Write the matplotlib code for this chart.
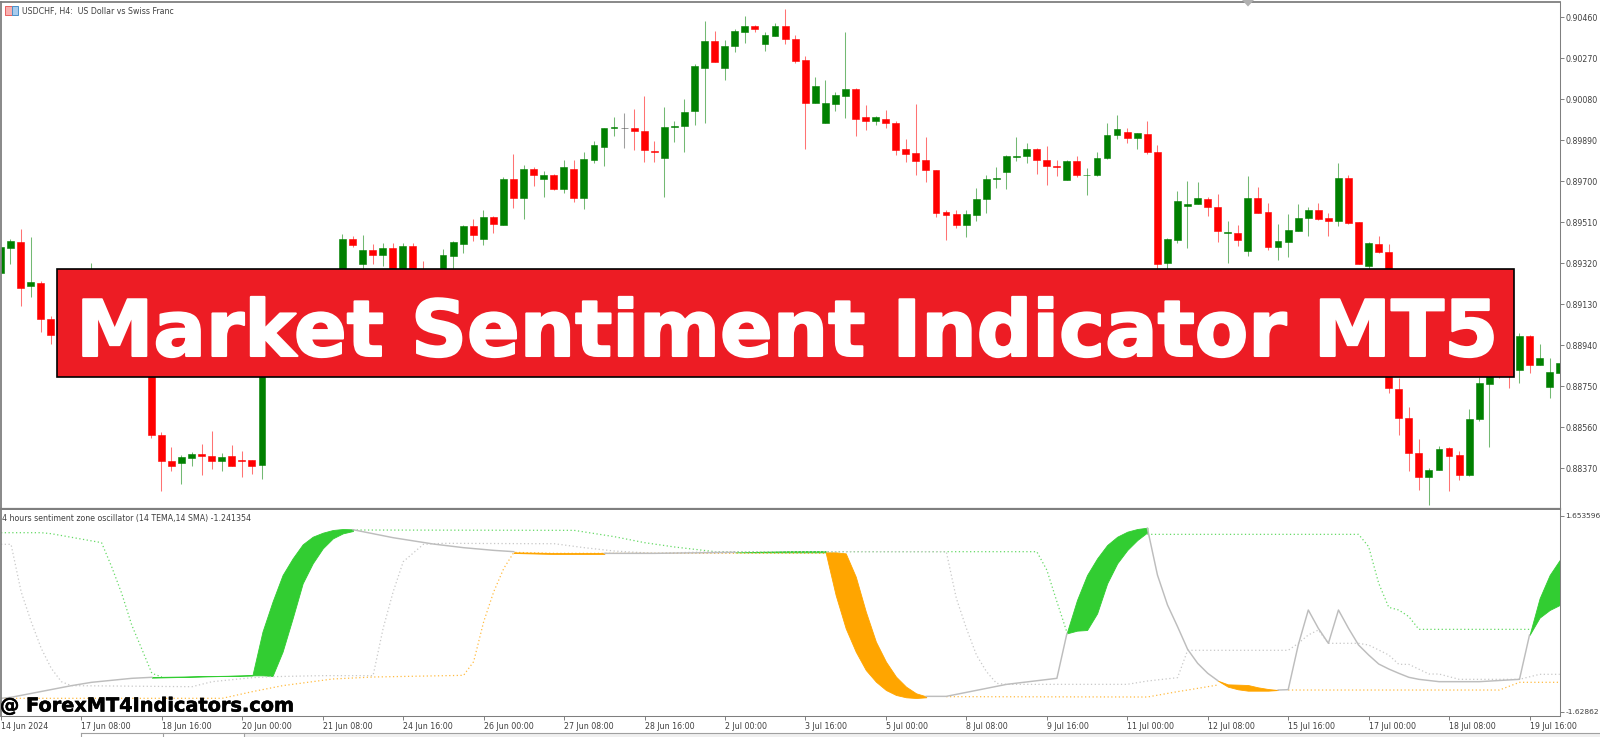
import matplotlib
matplotlib.use("Agg")
import matplotlib.pyplot as plt
import matplotlib.patheffects as pe
from matplotlib.patches import Rectangle, Polygon
import numpy as np

W, H = 1600, 737

# USDCHF H4 candles, prices in points (1e-5)
opens = [89273, 89392, 89420, 89216, 89230, 89060, 88990, 89080, 89120, 89040, 89220, 89130, 89170, 89100, 89060, 89000,
         88525, 88403, 88392, 88419, 88436, 88426, 88405, 88425, 88409, 88406, 88385, 89270, 89200, 89250, 89150, 89230,
         89190, 89260, 89258, 89431, 89316, 89383, 89358, 89389, 89258, 89398, 89260, 89190, 89227, 89353, 89411, 89492,
         89432, 89534, 89499, 89712, 89622, 89757, 89712, 89730, 89664, 89758, 89622, 89800, 89859, 89945, 89945, 89945,
         89934, 89839, 89806, 89950, 89958, 90026, 90223, 90348, 90223, 90325, 90390, 90418, 90336, 90375, 90418, 90359,
         90263, 90063, 89970, 90056, 90097, 90128, 89996, 89981, 89988, 89970, 89849, 89829, 89797, 89754, 89557, 89547,
         89497, 89543, 89618, 89712, 89744, 89814, 89815, 89849, 89800, 89771, 89707, 89794, 89727, 89727, 89808, 89914,
         89928, 89900, 89919, 89837, 89319, 89428, 89587, 89596, 89619, 89579, 89460, 89462, 89378, 89622, 89557, 89395,
         89418, 89471, 89530, 89567, 89528, 89517, 89715, 89510, 89307, 89409, 89373, 88739, 88604, 88440, 88329, 88363,
         88462, 88430, 88338, 88596, 88762, 88900, 88900, 88827, 88983, 88850, 88745, 88813]
highs = [89404, 89432, 89477, 89442, 89239, 89075, 89100, 89150, 89180, 89319, 89260, 89200, 89210, 89170, 89120, 89060,
         88536, 88467, 88433, 88443, 88482, 88544, 88440, 88476, 88450, 88406, 89285, 89285, 89270, 89275, 89260, 89280,
         89280, 89285, 89454, 89445, 89451, 89408, 89415, 89414, 89414, 89414, 89330, 89260, 89384, 89423, 89496, 89523,
         89567, 89539, 89720, 89826, 89775, 89766, 89747, 89735, 89798, 89800, 89837, 89885, 89948, 89996, 90016, 90036,
         90095, 89885, 90044, 89981, 90081, 90242, 90441, 90396, 90355, 90404, 90466, 90424, 90390, 90432, 90500, 90376,
         90280, 90185, 90169, 90112, 90392, 90131, 90053, 90004, 90030, 89978, 89896, 90060, 89905, 89754, 89565, 89567,
         89567, 89667, 89727, 89766, 89823, 89903, 89876, 89852, 89862, 89798, 89798, 89815, 89760, 89837, 89971, 90007,
         89948, 89925, 89978, 89868, 89437, 89656, 89701, 89695, 89625, 89642, 89517, 89497, 89724, 89672, 89599, 89500,
         89547, 89596, 89582, 89599, 89553, 89784, 89727, 89510, 89417, 89446, 89409, 88790, 88652, 88504, 88369, 88474,
         88470, 88450, 88644, 88794, 88900, 88950, 88960, 88995, 88987, 88946, 88881, 88895]
lows = [89258, 89316, 89122, 89165, 89003, 88947, 88950, 89040, 89000, 89000, 89100, 89060, 89080, 89020, 88980, 88508,
        88266, 88358, 88297, 88380, 88337, 88368, 88357, 88379, 88331, 88343, 88321, 89180, 89170, 89120, 89130, 89160,
        89170, 89200, 89227, 89395, 89289, 89316, 89307, 89234, 89234, 89227, 89150, 89140, 89196, 89281, 89369, 89421,
        89404, 89459, 89496, 89576, 89525, 89679, 89628, 89661, 89647, 89602, 89570, 89783, 89771, 89908, 89852, 89845,
        89789, 89788, 89628, 89883, 89835, 89961, 89971, 90251, 90168, 90299, 90342, 90393, 90304, 90375, 90336, 90250,
        89849, 90063, 89968, 90027, 89995, 89908, 89937, 89961, 89945, 89820, 89789, 89727, 89695, 89534, 89428, 89485,
        89442, 89517, 89554, 89669, 89664, 89794, 89783, 89734, 89681, 89724, 89706, 89718, 89635, 89726, 89805, 89894,
        89879, 89851, 89826, 89289, 89289, 89412, 89389, 89594, 89540, 89418, 89319, 89398, 89353, 89551, 89383, 89336,
        89349, 89469, 89446, 89520, 89446, 89494, 89503, 89315, 89292, 89366, 88717, 88524, 88358, 88270, 88198, 88363,
        88266, 88314, 88332, 88590, 88468, 88786, 88743, 88763, 88813, 88850, 88694, 88813]
closes = [89395, 89421, 89207, 89234, 89060, 88989, 89080, 89120, 89040, 89220, 89130, 89170, 89100, 89060, 89010, 88524,
          88402, 88379, 88420, 88436, 88425, 88405, 88423, 88379, 88405, 88382, 89281, 89200, 89250, 89150, 89230, 89190,
          89260, 89270, 89431, 89404, 89383, 89358, 89389, 89258, 89398, 89258, 89190, 89230, 89357, 89417, 89494, 89451,
          89534, 89500, 89712, 89622, 89755, 89730, 89729, 89662, 89764, 89622, 89803, 89869, 89947, 89950, 89945, 89931,
          89843, 89837, 89951, 89956, 90021, 90234, 90348, 90251, 90327, 90395, 90418, 90404, 90378, 90418, 90358, 90257,
          90063, 90141, 90063, 90100, 90128, 89990, 89981, 89998, 89970, 89846, 89826, 89794, 89751, 89553, 89545, 89497,
          89547, 89619, 89712, 89717, 89817, 89817, 89849, 89800, 89771, 89768, 89794, 89727, 89730, 89808, 89916, 89942,
          89900, 89922, 89835, 89316, 89431, 89610, 89596, 89622, 89579, 89468, 89465, 89429, 89622, 89553, 89395, 89421,
          89474, 89528, 89567, 89525, 89517, 89715, 89505, 89316, 89412, 89370, 88740, 88603, 88439, 88331, 88363, 88460,
          88425, 88340, 88598, 88765, 88900, 88820, 88820, 88981, 88850, 88881, 88817, 88856]

price_ticks = [0.90460, 0.90270, 0.90080, 0.89890, 0.89700, 0.89510, 0.89320, 0.89130, 0.88940, 0.88750, 0.88560, 0.88370]
date_labels = ["14 Jun 2024", "17 Jun 08:00", "18 Jun 16:00", "20 Jun 00:00", "21 Jun 08:00", "24 Jun 16:00", "26 Jun 00:00",
               "27 Jun 08:00", "28 Jun 16:00", "2 Jul 00:00", "3 Jul 16:00", "5 Jul 00:00", "8 Jul 08:00", "9 Jul 16:00",
               "11 Jul 00:00", "12 Jul 08:00", "15 Jul 16:00", "17 Jul 00:00", "18 Jul 08:00", "19 Jul 16:00"]
date_step = 8

# oscillator lines: candle index + value, nan breaks the line
nan = float("nan")
upper_idx = [0, 4, 5, 10, 11, 12, 13, 14, 15, 16, 16, 35, 57, 61, 64, 67, 71, 103, 104, 105, 106, 106,
             114, 135, 136, 137, 138, 139, 140, 141, 152]
upper_val = [1.369, 1.369, 1.352, 1.202, 0.800, 0.353, -0.177, -0.579, -0.986, -1.048, nan,
             1.414, 1.408, 1.302, 1.202, 1.129, 1.051, 1.051, 0.744, 0.214, -0.300, nan,
             1.341, 1.341, 1.135, 0.521, 0.119, 0.074, -0.037, -0.250, -0.250]
middle_idx = [0, 1, 2, 3, 4, 5, 6, 7, 19, 21, 25, 27, 32, 37, 38, 39, 40, 42, 44, 53, 55, 58, 61, 65, 71, 94, 95, 96, 97,
              98, 99, 100, 112, 114, 117, 118, 128, 129, 130, 131, 132, 135, 136, 138, 139, 140, 142, 143, 145, 151, 153, 155]
middle_val = [1.174, 1.174, 0.381, -0.121, -0.568, -0.903, -1.126, -1.193, -1.210, -1.126, -1.059, -1.042, -1.025, -1.025,
              -0.233, 0.381, 0.884, 1.174, 1.191, 1.185, 1.185, 1.118, 1.062, 1.023, 1.051, 1.051, 0.270, -0.233, -0.679,
              -0.958, -1.154, -1.171, -1.171, -1.115, -1.059, -0.601, -0.601, -0.484, -0.344, -0.261, -0.484, -0.484,
              -0.512, -0.679, -0.836, -0.836, -0.998, -0.998, -1.087, -1.087, -1.003, -1.003]
lower_idx = [0, 22, 25, 28, 33, 37, 46, 47, 48, 49, 50, 51, 55, 82, 82, 94, 114, 117, 118, 121, 121, 128, 149, 151, 155]
lower_val = [-1.405, -1.405, -1.293, -1.193, -1.081, -1.048, -1.020, -0.791, -0.121, 0.381, 0.772, 1.040, 1.023, 1.023, nan,
             -1.377, -1.383, -1.293, -1.266, -1.182, nan, -1.266, -1.266, -1.137, -1.137]
signal_idx = [0, 1, 7, 9, 13, 15, 15, 35, 39, 43, 46, 49, 51, 51, 60, 65, 73, 73, 92, 94, 100, 105, 106, 106,
              114, 115, 116, 117, 118, 119, 120, 121, 121, 127, 128, 129, 130, 131, 132, 133, 134, 135, 136, 137, 138,
              139, 140, 141, 143, 147, 151, 152]
signal_val = [-1.405, -1.388, -1.193, -1.137, -1.070, -1.053, nan, 1.419, 1.285, 1.179, 1.118, 1.073, 1.051, nan,
              1.023, 1.023, 1.040, nan, -1.372, -1.372, -1.171, -1.070, -0.317, nan,
              1.442, 0.660, 0.158, -0.205, -0.584, -0.819, -0.986, -1.109, nan, -1.266, -1.260, -0.512, 0.074, -0.233,
              -0.484, 0.074, -0.233, -0.512, -0.679, -0.830, -0.914, -0.986, -1.053, -1.087, -1.126, -1.126, -1.087, -0.344]

# filled zones
zone1_idx = [15, 25, 26, 27, 28, 29, 30, 31, 32, 33, 34, 35]
zone1_top = [-1.048, -1.020, -0.289, 0.214, 0.660, 0.939, 1.174, 1.302, 1.369, 1.414, 1.431, 1.425]
zone1_bot = [-1.059, -1.020, -1.020, -1.031, -0.624, -0.065, 0.521, 0.856, 1.107, 1.274, 1.358, 1.397]
zone2_idx = [51, 55, 60]
zone2_top = [1.040, 1.029, 1.029]
zone2_bot = [1.029, 1.012, 1.012]
zone3_idx = [73, 79, 82]
zone3_top = [1.040, 1.062, 1.062]
zone3_bot = [1.040, 1.040, 1.040]
zone4_idx = [82, 83, 84, 85, 86, 87, 88, 89, 90, 91, 92]
zone4_top = [1.040, 1.040, 1.023, 0.632, 0.046, -0.456, -0.791, -1.042, -1.210, -1.321, -1.372]
zone4_bot = [1.040, 0.325, -0.233, -0.624, -0.931, -1.126, -1.266, -1.349, -1.388, -1.400, -1.388]
zone5_idx = [106, 107, 108, 109, 110, 111, 112, 113, 114]
zone5_top = [-0.300, 0.242, 0.660, 0.939, 1.163, 1.302, 1.386, 1.431, 1.453]
zone5_bot = [-0.317, -0.272, -0.261, 0.018, 0.521, 0.856, 1.079, 1.246, 1.375]
zone6_idx = [121, 122, 123, 124, 125, 126, 127]
zone6_top = [-1.109, -1.171, -1.176, -1.182, -1.221, -1.249, -1.266]
zone6_bot = [-1.109, -1.210, -1.254, -1.277, -1.277, -1.277, -1.266]
zone7_idx = [152, 153, 154, 155]
zone7_top = [-0.344, 0.270, 0.660, 0.912]
zone7_bot = [-0.344, -0.054, 0.074, 0.158]

GREEN_C, RED_C = "#008000", "#FF0000"
LIME, ORANGE = "#32CD32", "#FFA500"
AXIS_C, TEXT_C = "#7F7F7F", "#404040"
FONT = "DejaVu Sans"
FS = 5.7


def px_axes(fig, x0, y0, x1, y1, **kw):
    """axes from pixel box, y counted from the top"""
    return fig.add_axes([x0 / W, 1 - y1 / H, (x1 - x0) / W, (y1 - y0) / H], **kw)


fig = plt.figure(figsize=(W / 100, H / 100), dpi=100, facecolor="white")

# x: candle i sits at pixel 0.4 + 10.06 * i
xlim = ((1 - 0.4) / 10.06, (1560 - 0.4) / 10.06)

ax = px_axes(fig, 1, 1.5, 1560, 509)
o, h, l, c = [np.array(a) / 1e5 for a in (opens, highs, lows, closes)]
idx = np.arange(len(o))
cols = np.where(c > o, GREEN_C, np.where(c < o, RED_C, "#505050"))
ax.vlines(idx, l, h, colors=cols, linewidth=0.75, alpha=0.55)
ax.bar(idx, np.abs(c - o), bottom=np.minimum(o, c), width=0.68, color=cols, edgecolor=cols, linewidth=0.4)
ax.set_xlim(*xlim)
ax.set_ylim(0.88181, 0.90533)
ax.set_xticks([])
ax.yaxis.tick_right()
ax.set_yticks(price_ticks)
ax.set_yticklabels([f"{t:.5f}" for t in price_ticks], fontsize=FS, color=TEXT_C, family=FONT)
ax.tick_params(axis="y", length=3, width=0.7, color=AXIS_C, pad=1)

osc = px_axes(fig, 1, 510, 1560, 716)
zones = [(zone1_idx, zone1_top, zone1_bot, LIME), (zone2_idx, zone2_top, zone2_bot, ORANGE),
         (zone3_idx, zone3_top, zone3_bot, LIME), (zone4_idx, zone4_top, zone4_bot, ORANGE),
         (zone5_idx, zone5_top, zone5_bot, LIME), (zone6_idx, zone6_top, zone6_bot, ORANGE),
         (zone7_idx, zone7_top, zone7_bot, LIME)]
dots = (0, (1, 2))
osc.plot(upper_idx, upper_val, color=LIME, lw=0.9, ls=dots, alpha=0.75)
osc.plot(middle_idx, middle_val, color="#C8C8C8", lw=0.9, ls=dots)
osc.plot(lower_idx, lower_val, color=ORANGE, lw=0.9, ls=dots, alpha=0.75)
for z_idx, z_top, z_bot, z_col in zones:
    osc.fill_between(z_idx, z_top, z_bot, color=z_col, lw=0.6)
osc.plot(signal_idx, signal_val, color="#BDBDBD", lw=1.05)
osc.set_xlim(*xlim)
osc.set_ylim(-1.701, 1.749)
osc.yaxis.tick_right()
osc.set_yticks([1.653596, -1.62862])
osc.set_yticklabels(["1.653596", "-1.62862"], fontsize=5.4, color=TEXT_C, family=FONT)
osc.tick_params(axis="y", length=3, width=0.7, color=AXIS_C, pad=1)
date_pos = np.arange(len(date_labels)) * date_step
osc.set_xticks(date_pos)
osc.set_xticklabels(date_labels, fontsize=FS, color=TEXT_C, family=FONT, ha="left")
osc.tick_params(axis="x", length=3, width=0.7, color=AXIS_C, pad=1.5)

for a in (ax, osc):
    for s in a.spines.values():
        s.set_color(AXIS_C)
        s.set_linewidth(0.75)
    a.spines["left"].set_linewidth(1.3)
    a.spines["top"].set_linewidth(1.3)
ax.spines["bottom"].set_linewidth(1.6)
osc.spines["top"].set_visible(False)

# overlay in pixels for the window furniture, banner and watermark
top = fig.add_axes([0, 0, 1, 1], facecolor="none", zorder=5)
top.set_xlim(0, W)
top.set_ylim(H, 0)
top.axis("off")

# title and little chart icon
top.add_patch(Rectangle((5, 5.5), 6.5, 9.5, fc="#F9B0B0", ec="#E86060", lw=0.7))
top.add_patch(Rectangle((11.5, 5.5), 6.5, 9.5, fc="#A8CCEE", ec="#4A90C8", lw=0.7))
top.text(22.5, 11, "USDCHF, H4:  US Dollar vs Swiss Franc", fontsize=FS, color=TEXT_C, family=FONT, va="center")
top.text(2.5, 518, "4 hours sentiment zone oscillator (14 TEMA,14 SMA) -1.241354", fontsize=FS, color=TEXT_C,
         family=FONT, va="center")
top.add_patch(Polygon([(1242, 0), (1254, 0), (1248, 6.5)], fc="#B0B0B0", ec="none"))

# bottom tab strip
top.add_patch(Rectangle((244, 733.5), W - 244, 4, fc="#F0F0F0", ec="none"))
top.plot([81, W], [733, 733], color="#A0A0A0", lw=0.8)
for tab_x in (81, 163, 244):
    top.plot([tab_x, tab_x], [733, H], color="#A0A0A0", lw=0.8)

# banner
top.add_patch(Rectangle((57.3, 268.5), 1456.4, 108, fc="#ED1C24", ec="black", lw=1.2))
top.text(787, 356, "Market Sentiment Indicator MT5", fontsize=56, color="white", family="DejaVu Sans",
         weight="bold", ha="center", va="baseline",
         path_effects=[pe.withStroke(linewidth=1.5, foreground="white")])

# watermark
top.text(0, 711.5, "@ ForexMT4Indicators.com", fontsize=13.9, color="black", family="DejaVu Sans",
         weight="bold", va="baseline", path_effects=[pe.withStroke(linewidth=0.4, foreground="black")])

fig.savefig("out.png", dpi=100)
